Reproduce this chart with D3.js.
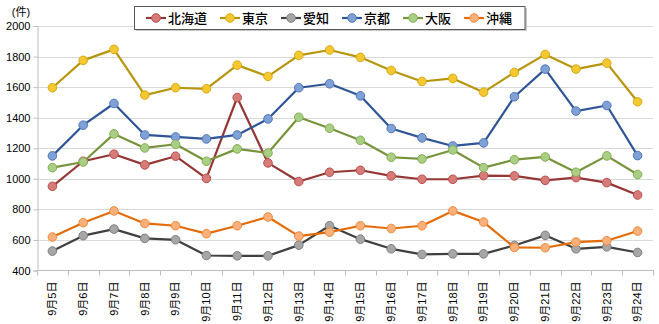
<!DOCTYPE html>
<html><head><meta charset="utf-8">
<script src="https://cdn.jsdelivr.net/npm/d3@7"></script>
<style>
html,body{margin:0;padding:0;background:#fff;}
svg{display:block;}
text{font-family:"Liberation Sans","Noto Sans CJK JP",sans-serif;}
</style></head>
<body>
<svg id="c" width="659" height="324"></svg>
<script>
const categories = ["9月5日","9月6日","9月7日","9月8日","9月9日","9月10日","9月11日","9月12日","9月13日","9月14日","9月15日","9月16日","9月17日","9月18日","9月19日","9月20日","9月21日","9月22日","9月23日","9月24日"];
const seriesNames = ["北海道","東京","愛知","京都","大阪","沖縄"];
const hokkaido = [951,1115,1161,1091,1148,1003,1532,1104,982,1043,1056,1019,997,997,1021,1019,990,1008,975,894];
const tokyo    = [1596,1775,1847,1548,1596,1589,1744,1670,1808,1843,1795,1709,1637,1657,1567,1696,1814,1718,1757,1504];
const aichi    = [527,628,671,610,601,498,496,496,566,693,605,542,505,509,509,564,630,542,555,518];
const kyoto    = [1150,1351,1493,1287,1274,1261,1287,1392,1596,1622,1543,1329,1268,1215,1235,1537,1718,1443,1480,1152];
const osaka    = [1073,1110,1294,1202,1226,1115,1196,1169,1403,1331,1252,1141,1130,1189,1073,1125,1143,1043,1150,1028];
const okinawa  = [619,713,790,708,693,641,693,750,625,651,693,675,693,790,717,551,549,586,595,658];
const yTicks = [400,600,800,1000,1200,1400,1600,1800,2000];
const unitLabel = "(件)";

const seriesValues = [hokkaido,tokyo,aichi,kyoto,osaka,okinawa];
const lineColors = ["#953735","#b8960c","#404040","#2f5597","#77933c","#e36c09"];
const markFill   = ["#d77b79","#f5c830","#a6a6a6","#7fa1d6","#a9cf84","#f9b07a"];
const markStroke = ["#b94f4c","#d4a919","#7f7f7f","#4f76b8","#86ac55","#f08a3c"];

const svg = d3.select("#c");
const L = 37, R = 653, T = 26, B = 270.5;
const x = d3.scaleBand().domain(categories).range([L,R]);
const y = d3.scaleLinear().domain([400,2000]).range([B,T]);

// gridlines
svg.append("g").selectAll("line").data(yTicks.filter(d=>d>400)).join("line")
  .attr("x1",L).attr("x2",R).attr("y1",d=>Math.round(y(d))+0.5).attr("y2",d=>Math.round(y(d))+0.5)
  .attr("stroke","#d9d9d9").attr("stroke-width",1);

// y axis
const yAx = svg.append("g").attr("transform",`translate(${L+0.5},0)`)
  .call(d3.axisLeft(y).tickValues(yTicks).tickSize(4).tickPadding(3).tickFormat(d3.format("d")));
yAx.select(".domain").attr("stroke","#bfbfbf");
yAx.selectAll(".tick line").attr("stroke","#bfbfbf");
yAx.selectAll("text").attr("font-size",11).attr("fill","#000");

// x axis
const xAx = svg.append("g").attr("transform",`translate(0,${B})`);
xAx.append("line").attr("x1",L).attr("x2",R+1).attr("y1",0).attr("y2",0).attr("stroke","#bfbfbf");
const bounds = categories.map(c=>x(c)).concat([x(categories[categories.length-1])+x.bandwidth()]);
xAx.selectAll("line.t").data(bounds).join("line").attr("class","t")
  .attr("x1",d=>Math.round(d)+0.5).attr("x2",d=>Math.round(d)+0.5).attr("y1",0).attr("y2",5).attr("stroke","#bfbfbf");
xAx.selectAll("text").data(categories).join("text")
  .attr("transform",d=>`translate(${x(d)+x.bandwidth()/2},11) rotate(-90)`)
  .attr("text-anchor","end").attr("dy","0.35em").attr("font-size",11).attr("fill","#000")
  .text(d=>d);

// unit label
svg.append("text").attr("x",21).attr("y",16).attr("text-anchor","middle").attr("font-size",11).text(unitLabel);

// series
const line = d3.line().x((d,i)=>x(categories[i])+x.bandwidth()/2).y(d=>y(d));
seriesValues.forEach((vals,si)=>{
  const g = svg.append("g");
  g.append("path").attr("d",line(vals)).attr("fill","none").attr("stroke",lineColors[si]).attr("stroke-width",2.2).attr("stroke-linejoin","round");
  g.selectAll("circle").data(vals).join("circle")
    .attr("cx",(d,i)=>x(categories[i])+x.bandwidth()/2).attr("cy",d=>y(d)).attr("r",4.3)
    .attr("fill",markFill[si]).attr("stroke",markStroke[si]).attr("stroke-width",1);
});

// legend
const lg = svg.append("g");
lg.append("rect").attr("x",136).attr("y",8).attr("width",391).attr("height",23).attr("fill","#c8c8c8");
const box = lg.append("rect").attr("x",134.5).attr("y",6.5).attr("height",23).attr("width",390.5).attr("fill","#fff").attr("stroke","#595959");
let cx = 146;
seriesNames.forEach((n,si)=>{
  lg.append("line").attr("x1",cx).attr("x2",cx+20).attr("y1",18).attr("y2",18).attr("stroke",lineColors[si]).attr("stroke-width",2.2);
  lg.append("circle").attr("cx",cx+10).attr("cy",18).attr("r",4.3).attr("fill",markFill[si]).attr("stroke",markStroke[si]);
  const t = lg.append("text").attr("x",cx+22).attr("y",18).attr("dy","0.36em").attr("font-size",13)
    .style("font-family","'Noto Sans CJK JP',sans-serif").attr("font-weight",500).text(n);
  cx += 22 + t.node().getComputedTextLength() + 13;
});
</script>
</body></html>
